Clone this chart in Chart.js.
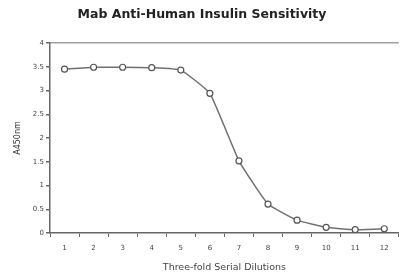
<!DOCTYPE html>
<html>
<head>
<meta charset="utf-8">
<script src="https://cdn.jsdelivr.net/npm/chart.js@4"></script>
<style>
  html, body { margin: 0; padding: 0; background: #fff; overflow: hidden; }
  #wrap { width: 404px; height: 278px; }
</style>
</head>
<body>
<div id="wrap"><canvas id="chart" width="404" height="278"></canvas></div>
<script>
// dilution steps and absorbance
var dilutions = ["1", "2", "3", "4", "5", "6", "7", "8", "9", "10", "11", "12"];
var absorbance = [3.45, 3.49, 3.49, 3.48, 3.43, 2.94, 1.52, 0.61, 0.27, 0.12, 0.07, 0.09];
var yTicks = [0, 0.5, 1, 1.5, 2, 2.5, 3, 3.5, 4];

var axisColor = "#666";
var textColor = "#444";
var fontName = "DejaVu Sans, Verdana, sans-serif";

var ctx = document.getElementById("chart").getContext("2d");
var myChart = new Chart(ctx, {
    type: "line",
    data: {
        labels: dilutions,
        datasets: [{
            data: absorbance,
            borderColor: "#707070",
            borderWidth: 1.5,
            tension: 0.12,
            pointRadius: 3,
            pointBorderWidth: 1.2,
            pointBorderColor: "#555",
            pointBackgroundColor: "#fff"
        }]
    },
    options: {
        responsive: false,
        animation: false,
        layout: { padding: { left: 0, right: 0, top: 0, bottom: 0 } },
        plugins: {
            legend: { display: false },
            tooltip: { enabled: false },
            title: {
                display: true,
                text: "Mab Anti-Human Insulin Sensitivity",
                color: "#222",
                font: { family: fontName, size: 12.5, weight: "bold" },
                padding: { top: 7, bottom: 21 }
            }
        },
        scales: {
            x: {
                offset: true,
                grid: {
                    offset: true,
                    drawOnChartArea: false,
                    tickLength: 4,
                    tickColor: axisColor
                },
                border: { color: axisColor, width: 1.5 },
                ticks: {
                    color: textColor,
                    padding: 7,
                    font: { family: fontName, size: 7 }
                },
                title: {
                    display: true,
                    text: "Three-fold Serial Dilutions",
                    color: textColor,
                    font: { family: fontName, size: 9.5 },
                    padding: { top: 4, bottom: 5 }
                },
                afterFit: function (scale) { scale.height = 45; }
            },
            y: {
                min: 0,
                max: 4,
                afterBuildTicks: function (scale) {
                    scale.ticks = yTicks.map(function (v) { return { value: v }; });
                },
                grid: {
                    drawOnChartArea: true,
                    tickLength: 4,
                    tickColor: axisColor,
                    lineWidth: 1.5,
                    color: function (c) { return c.tick && c.tick.value === 4 ? "#a0a0a0" : "rgba(0,0,0,0)"; }
                },
                border: { color: axisColor, width: 1.5 },
                ticks: {
                    color: textColor,
                    padding: 2,
                    font: { family: fontName, size: 7 },
                    callback: function (v) { return String(v); }
                },
                title: {
                    display: true,
                    text: "A450nm",
                    color: "#333",
                    font: { family: fontName, size: 8 },
                    padding: { top: 13, bottom: 6 }
                },
                afterFit: function (scale) { scale.width = 50; }
            }
        }
    }
});
</script>
</body>
</html>
